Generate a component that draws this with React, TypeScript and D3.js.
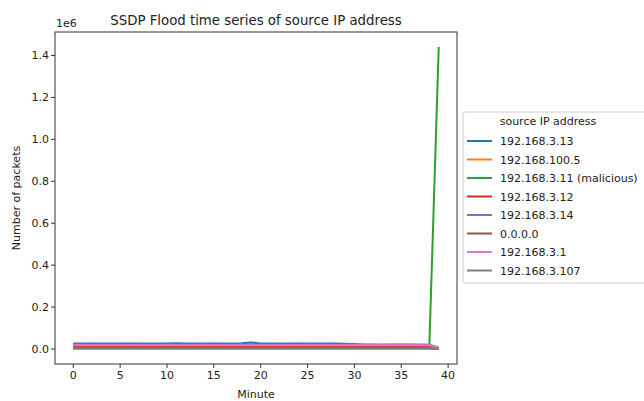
import React from "react";
import * as d3 from "d3";

// minutes 0..39
const minutes = d3.range(0, 40);

const ipNames = [
  "192.168.3.13",
  "192.168.100.5",
  "192.168.3.11 (malicious)",
  "192.168.3.12",
  "192.168.3.14",
  "0.0.0.0",
  "192.168.3.1",
  "192.168.3.107",
];

const ipColors = ["#1f77b4", "#ff7f0e", "#2ca02c", "#d62728", "#9467bd", "#8c564b", "#e377c2", "#7f7f7f"];

const ip13 = [26000, 26200, 25900, 26100, 26000, 25800, 26000, 26300, 26100, 25900, 26200, 27500, 26800, 26400, 26300, 26600, 26200, 26000, 27200, 31500, 26800, 26200, 26000, 25800, 26100, 26000, 25900, 26200, 25800, 25000, 24000, 20500, 20000, 19800, 20100, 19900, 20000, 19800, 19500, 4500];
const ip100_5 = [1500, 1600, 1500, 1400, 1500, 1600, 1500, 1500, 1400, 1500, 1600, 1500, 1500, 1400, 1500, 1600, 1500, 1500, 1400, 1500, 1600, 1500, 1500, 1400, 1500, 1600, 1500, 1500, 1400, 1500, 1600, 1500, 1500, 1400, 1500, 1600, 1500, 1500, 1400, 500];
const ip11 = [16500, 16600, 16400, 16500, 16700, 16500, 16400, 16600, 16500, 16500, 16400, 16600, 16500, 16700, 16500, 16400, 16600, 16500, 16500, 16400, 16600, 16500, 16700, 16500, 16400, 16600, 16500, 16500, 16400, 16600, 16500, 16700, 16500, 16400, 16600, 16500, 16500, 16800, 18000, 1440000];
const ip12 = [11500, 11600, 11400, 11500, 11700, 11500, 11400, 11600, 11500, 11500, 11400, 11600, 11500, 11700, 11500, 11400, 11600, 11500, 11500, 11400, 11600, 11500, 11700, 11500, 11400, 11600, 11500, 11500, 11400, 11600, 11500, 11700, 11500, 11400, 11600, 11500, 11500, 11400, 11600, 3000];
const ip14 = [21000, 21100, 20900, 21000, 21200, 21000, 20900, 21100, 21000, 21000, 20900, 21100, 21000, 21200, 21000, 20900, 21100, 21000, 21000, 20900, 21100, 21000, 21200, 21000, 20900, 21100, 21000, 21000, 20900, 21100, 21000, 21200, 21000, 20900, 21100, 21000, 21000, 20900, 21100, 6000];
const ip0 = [5000, 5100, 4900, 5000, 5200, 5000, 4900, 5100, 5000, 5000, 4900, 5100, 5000, 5200, 5000, 4900, 5100, 5000, 5000, 4900, 5100, 5000, 5200, 5000, 4900, 5100, 5000, 5000, 4900, 5100, 5000, 5200, 5000, 4900, 5100, 5000, 5000, 4900, 5100, 1500];
const ip1 = [18000, 18100, 17900, 18000, 18200, 18000, 17900, 18100, 18000, 18000, 17900, 18100, 18000, 18200, 18000, 17900, 18100, 18000, 18000, 17900, 18100, 18000, 18200, 18000, 17900, 18100, 18000, 18000, 17900, 18100, 18000, 18200, 18000, 17900, 18100, 18000, 18000, 17900, 18100, 5000];
const ip107 = [2000, 2100, 1900, 2000, 2200, 2000, 1900, 2100, 2000, 2000, 1900, 2100, 2000, 2200, 2000, 1900, 2100, 2000, 2000, 1900, 2100, 2000, 2200, 2000, 1900, 2100, 2000, 2000, 1900, 2100, 2000, 2200, 2000, 1900, 2100, 2000, 2000, 1900, 2100, 800];

const seriesValues = [ip13, ip100_5, ip11, ip12, ip14, ip0, ip1, ip107];

const xTicks = [0, 5, 10, 15, 20, 25, 30, 35, 40];
const yTicks = [0, 200000, 400000, 600000, 800000, 1000000, 1200000, 1400000];

const font = "'DejaVu Sans', sans-serif";

export default function App() {
  const left = 55, right = 457, top = 32, bottom = 364;

  const x = d3.scaleLinear().domain([-1.95, 40.95]).range([left, right]);
  const allVals = seriesValues.flat();
  const yMin = d3.min(allVals) as number;
  const yMax = d3.max(allVals) as number;
  const pad = (yMax - yMin) * 0.05;
  const y = d3.scaleLinear().domain([yMin - pad, yMax + pad]).range([bottom, top]);

  const line = d3
    .line<number>()
    .x((d, i) => x(minutes[i]))
    .y((d) => y(d));

  const legendX = 463, legendY = 112;
  const rowH = 18.5;
  const fs = 11;

  return (
    <svg
      width={644}
      height={401}
      style={{ position: "absolute", left: 0, top: 0, background: "#fff" }}
      fontFamily={font}
    >
      <rect x={0} y={0} width={644} height={401} fill="#fff" />
      <text x={(left + right) / 2} y={25} textAnchor="middle" fontSize={13.3} fill="#222">
        SSDP Flood time series of source IP address
      </text>

      {/* lines */}
      {seriesValues.map((vals, i) => (
        <path key={i} d={line(vals) || ""} fill="none" stroke={ipColors[i]} strokeWidth={2} strokeLinejoin="round" />
      ))}

      {/* axes frame */}
      <rect x={left} y={top} width={right - left} height={bottom - top} fill="none" stroke="#333" strokeWidth={1} />

      {xTicks.map((t) => (
        <g key={t}>
          <line x1={x(t)} x2={x(t)} y1={bottom} y2={bottom + 4} stroke="#333" strokeWidth={1} />
          <text x={x(t)} y={bottom + 15} textAnchor="middle" fontSize={fs} fill="#222">
            {t}
          </text>
        </g>
      ))}
      <text x={x(19.5)} y={398} textAnchor="middle" fontSize={fs} fill="#222">
        Minute
      </text>

      {yTicks.map((t) => (
        <g key={t}>
          <line x1={left - 4} x2={left} y1={y(t)} y2={y(t)} stroke="#333" strokeWidth={1} />
          <text x={left - 6} y={y(t) + 4} textAnchor="end" fontSize={fs} fill="#222">
            {(t / 1e6).toFixed(1)}
          </text>
        </g>
      ))}
      <text x={left + 1} y={27} fontSize={fs} fill="#222">
        1e6
      </text>
      <text
        transform={`translate(20, ${(top + bottom) / 2}) rotate(-90)`}
        textAnchor="middle"
        fontSize={fs}
        fill="#222"
      >
        Number of packets
      </text>

      {/* legend */}
      <rect x={legendX} y={legendY} width={190} height={171} rx={2} fill="#fff" stroke="#ccc" strokeWidth={1} />
      <text x={legendX + 85} y={legendY + 13} textAnchor="middle" fontSize={fs} fill="#222">
        source IP address
      </text>
      {ipNames.map((name, i) => {
        const yy = legendY + 29 + i * rowH;
        return (
          <g key={name}>
            <line x1={legendX + 4} x2={legendX + 29} y1={yy} y2={yy} stroke={ipColors[i]} strokeWidth={2} />
            <text x={legendX + 37} y={yy + 4} fontSize={fs} fill="#222">
              {name}
            </text>
          </g>
        );
      })}
    </svg>
  );
}
